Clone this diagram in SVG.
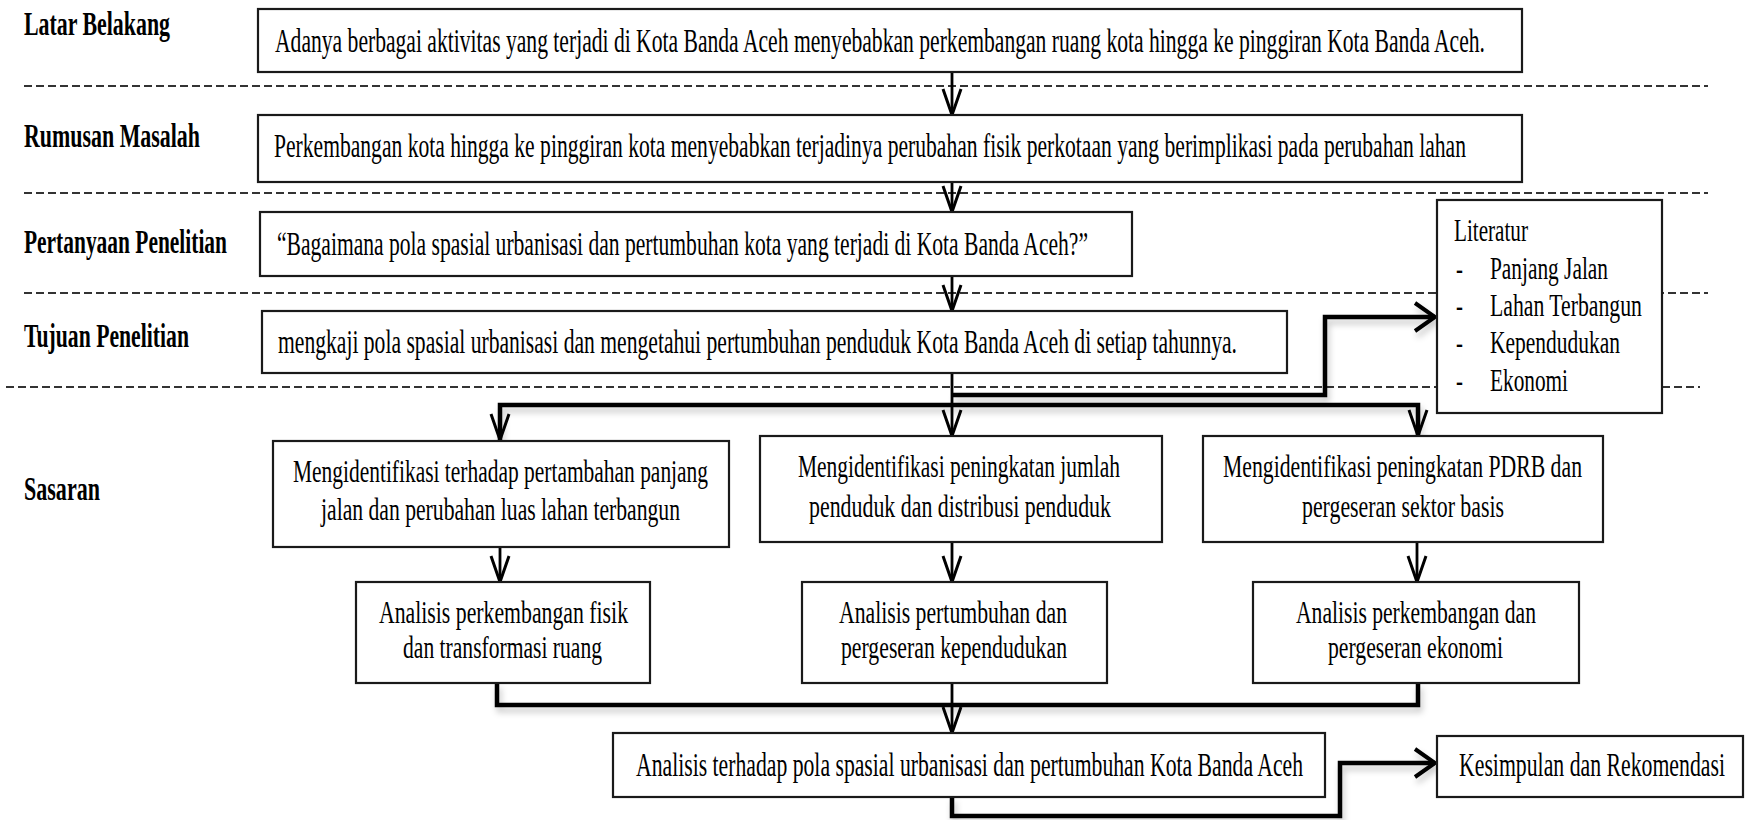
<svg xmlns="http://www.w3.org/2000/svg" width="1746" height="820" viewBox="0 0 1746 820">
<defs>
<style>
text{font-family:"Liberation Serif","Times New Roman",serif;fill:#000}
.lb{font-weight:bold;font-size:33px}
.t1{font-size:34px}
.tl{font-size:32px}
.t2{font-size:31px}
.t3{font-size:33px}
.box{fill:#fff;stroke:#1a1a1a;stroke-width:2.2}
.dash{stroke:#333;stroke-width:2;stroke-dasharray:8 4;fill:none}
.thin{stroke:#000;stroke-width:2.8;fill:none}
.thick{stroke:#000;stroke-width:4.5;fill:none;stroke-linejoin:miter}
.ah{stroke:#000;stroke-width:3;fill:none}
.ahk{stroke:#000;stroke-width:4;fill:none}
</style>
<filter id="sh" filterUnits="userSpaceOnUse" x="0" y="0" width="1746" height="820">
<feDropShadow dx="2" dy="5" stdDeviation="3" flood-color="#000" flood-opacity="0.22"/>
</filter>
<marker id="av" markerUnits="userSpaceOnUse" viewBox="-30 -15 32 30" refX="0" refY="0" markerWidth="32" markerHeight="30" orient="auto">
<path class="ah" d="M-26,-9 L0,0 L-26,9"/>
</marker>
<marker id="ak" markerUnits="userSpaceOnUse" viewBox="-26 -18 28 36" refX="0" refY="0" markerWidth="28" markerHeight="36" orient="auto">
<path class="ahk" d="M-20,-14 L0,0 L-20,14"/>
</marker>
</defs>
<rect width="1746" height="820" fill="#fff"/>

<g id="separators">
<line class="dash" x1="24" y1="86" x2="1708" y2="86"/>
<line class="dash" x1="24" y1="193" x2="1708" y2="193"/>
<line class="dash" x1="24" y1="293" x2="1708" y2="293"/>
<line class="dash" x1="6" y1="387" x2="1700" y2="387"/>
</g>

<g id="labels">
<text class="lb" transform="translate(24,35) scale(0.65,1)" textLength="224.6" lengthAdjust="spacingAndGlyphs">Latar Belakang</text>
<text class="lb" transform="translate(24,147) scale(0.65,1)" textLength="270.8" lengthAdjust="spacingAndGlyphs">Rumusan Masalah</text>
<text class="lb" transform="translate(24,253) scale(0.65,1)" textLength="312.3" lengthAdjust="spacingAndGlyphs">Pertanyaan Penelitian</text>
<text class="lb" transform="translate(24,347) scale(0.65,1)" textLength="253.8" lengthAdjust="spacingAndGlyphs">Tujuan Penelitian</text>
<text class="lb" transform="translate(24,500) scale(0.65,1)" textLength="116.9" lengthAdjust="spacingAndGlyphs">Sasaran</text>
</g>

<g id="connectors">
<line class="thin" x1="952" y1="72" x2="952" y2="115" marker-end="url(#av)"/>
<line class="thin" x1="952" y1="182" x2="952" y2="212" marker-end="url(#av)"/>
<line class="thin" x1="952" y1="276" x2="952" y2="311" marker-end="url(#av)"/>
<line class="thin" x1="952" y1="373" x2="952" y2="436" marker-end="url(#av)"/>
<path class="thick" filter="url(#sh)" d="M952,395 H1325 V317 H1435" marker-end="url(#ak)"/>
<path class="thick" filter="url(#sh)" d="M500,440 V405 H1418 V436"/>
<path class="ah" d="M491,414 L500,440 L509,414"/>
<path class="ah" d="M1409,410 L1418,436 L1427,410"/>
<line class="thin" x1="500" y1="547" x2="500" y2="582" marker-end="url(#av)"/>
<line class="thin" x1="952" y1="542" x2="952" y2="582" marker-end="url(#av)"/>
<line class="thin" x1="1417" y1="542" x2="1417" y2="582" marker-end="url(#av)"/>
<path class="thick" filter="url(#sh)" d="M497,683 V705 H1418 V683"/>
<line class="thin" x1="952" y1="683" x2="952" y2="733" marker-end="url(#av)"/>
<path class="thick" filter="url(#sh)" d="M952,797 V816 H1340 V763 H1435" marker-end="url(#ak)"/>
</g>

<g id="latar">
<rect class="box" x="258" y="9" width="1264" height="63"/>
<text class="t1" transform="translate(275,52) scale(0.65,1)" textLength="1861.5" lengthAdjust="spacingAndGlyphs">Adanya berbagai aktivitas yang terjadi di Kota Banda Aceh menyebabkan perkembangan ruang kota hingga ke pinggiran Kota Banda Aceh.</text>
</g>
<g id="rumusan">
<rect class="box" x="258" y="115" width="1264" height="67"/>
<text class="t1" transform="translate(274,157) scale(0.65,1)" textLength="1833.8" lengthAdjust="spacingAndGlyphs">Perkembangan kota hingga ke pinggiran kota menyebabkan terjadinya perubahan fisik perkotaan yang berimplikasi pada perubahan lahan</text>
</g>
<g id="pertanyaan">
<rect class="box" x="260" y="212" width="872" height="64"/>
<text class="t1" transform="translate(277,255) scale(0.65,1)" textLength="1247.7" lengthAdjust="spacingAndGlyphs">“Bagaimana pola spasial urbanisasi dan pertumbuhan kota yang terjadi di Kota Banda Aceh?”</text>
</g>
<g id="tujuan">
<rect class="box" x="262" y="311" width="1025" height="62"/>
<text class="t1" transform="translate(278,353) scale(0.65,1)" textLength="1475.4" lengthAdjust="spacingAndGlyphs">mengkaji pola spasial urbanisasi dan mengetahui pertumbuhan penduduk Kota Banda Aceh di setiap tahunnya.</text>
</g>
<g id="literatur">
<rect class="box" x="1437" y="200" width="225" height="213"/>
<text class="tl" transform="translate(1454,241) scale(0.65,1)" textLength="113.8" lengthAdjust="spacingAndGlyphs">Literatur</text>
<text class="tl" transform="translate(1456,279) scale(0.65,1)">-</text>
<text class="tl" transform="translate(1490,279) scale(0.65,1)" textLength="181.5" lengthAdjust="spacingAndGlyphs">Panjang Jalan</text>
<text class="tl" transform="translate(1456,316) scale(0.65,1)">-</text>
<text class="tl" transform="translate(1490,316) scale(0.65,1)" textLength="233.8" lengthAdjust="spacingAndGlyphs">Lahan Terbangun</text>
<text class="tl" transform="translate(1456,353) scale(0.65,1)">-</text>
<text class="tl" transform="translate(1490,353) scale(0.65,1)" textLength="200" lengthAdjust="spacingAndGlyphs">Kependudukan</text>
<text class="tl" transform="translate(1456,391) scale(0.65,1)">-</text>
<text class="tl" transform="translate(1490,391) scale(0.65,1)" textLength="120" lengthAdjust="spacingAndGlyphs">Ekonomi</text>
</g>

<g id="sasaran1">
<rect class="box" x="273" y="441" width="456" height="106"/>
<text class="t2" transform="translate(293,482) scale(0.65,1)" textLength="638.5" lengthAdjust="spacingAndGlyphs">Mengidentifikasi terhadap pertambahan panjang</text>
<text class="t2" transform="translate(321,520) scale(0.65,1)" textLength="552.3" lengthAdjust="spacingAndGlyphs">jalan dan perubahan luas lahan terbangun</text>
</g>
<g id="sasaran2">
<rect class="box" x="760" y="436" width="402" height="106"/>
<text class="t2" transform="translate(798,477) scale(0.65,1)" textLength="495.4" lengthAdjust="spacingAndGlyphs">Mengidentifikasi peningkatan jumlah</text>
<text class="t2" transform="translate(809,517) scale(0.65,1)" textLength="464.6" lengthAdjust="spacingAndGlyphs">penduduk dan distribusi penduduk</text>
</g>
<g id="sasaran3">
<rect class="box" x="1203" y="436" width="400" height="106"/>
<text class="t2" transform="translate(1223,477) scale(0.65,1)" textLength="552.3" lengthAdjust="spacingAndGlyphs">Mengidentifikasi peningkatan PDRB dan</text>
<text class="t2" transform="translate(1302,517) scale(0.65,1)" textLength="310.8" lengthAdjust="spacingAndGlyphs">pergeseran sektor basis</text>
</g>
<g id="analisis1">
<rect class="box" x="356" y="582" width="294" height="101"/>
<text class="t2" transform="translate(379,623) scale(0.65,1)" textLength="383.1" lengthAdjust="spacingAndGlyphs">Analisis perkembangan fisik</text>
<text class="t2" transform="translate(403,658) scale(0.65,1)" textLength="306.2" lengthAdjust="spacingAndGlyphs">dan transformasi ruang</text>
</g>
<g id="analisis2">
<rect class="box" x="802" y="582" width="305" height="101"/>
<text class="t2" transform="translate(839,623) scale(0.65,1)" textLength="350.8" lengthAdjust="spacingAndGlyphs">Analisis pertumbuhan dan</text>
<text class="t2" transform="translate(841,658) scale(0.65,1)" textLength="347.7" lengthAdjust="spacingAndGlyphs">pergeseran kependudukan</text>
</g>
<g id="analisis3">
<rect class="box" x="1253" y="582" width="326" height="101"/>
<text class="t2" transform="translate(1296,623) scale(0.65,1)" textLength="369.2" lengthAdjust="spacingAndGlyphs">Analisis perkembangan dan</text>
<text class="t2" transform="translate(1328,658) scale(0.65,1)" textLength="269.2" lengthAdjust="spacingAndGlyphs">pergeseran ekonomi</text>
</g>
<g id="analisis-akhir">
<rect class="box" x="613" y="733" width="712" height="64"/>
<text class="t3" transform="translate(636,776) scale(0.65,1)" textLength="1026.2" lengthAdjust="spacingAndGlyphs">Analisis terhadap pola spasial urbanisasi dan pertumbuhan Kota Banda Aceh</text>
</g>
<g id="kesimpulan">
<rect class="box" x="1437" y="736" width="306" height="61"/>
<text class="t3" transform="translate(1459,776) scale(0.65,1)" textLength="409.2" lengthAdjust="spacingAndGlyphs">Kesimpulan dan Rekomendasi</text>
</g>
</svg>
